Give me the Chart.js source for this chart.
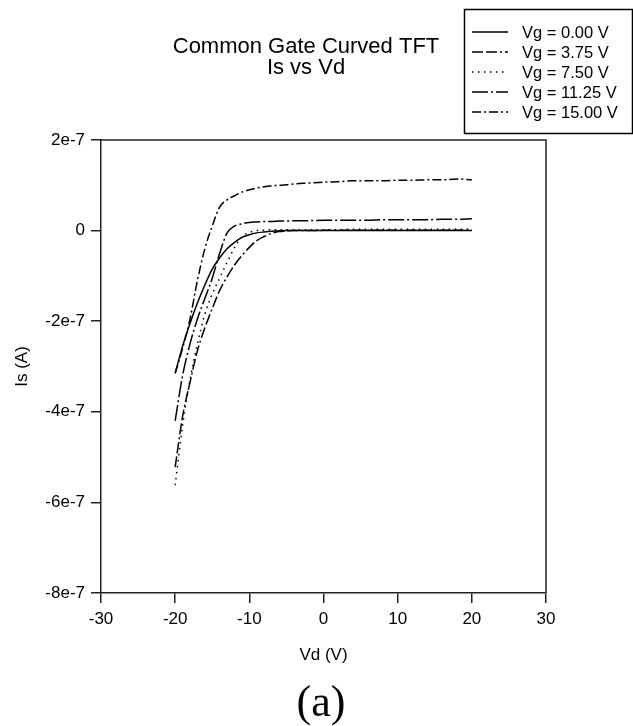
<!DOCTYPE html>
<html><head><meta charset="utf-8">
<script src="https://cdn.jsdelivr.net/npm/chart.js@4.4.0/dist/chart.umd.min.js"></script>
<style>html,body{margin:0;padding:0;background:#fff;}#wrap{width:633px;height:726px;position:relative;}</style>
</head><body><div id="wrap"><canvas id="c" width="633" height="726"></canvas></div>
<script>
// ---- data ----
const vd = [-20,-19,-18,-17,-16,-15,-14,-13,-12,-11,-10,-9,-8,-7,-6,-5,-4,-2,0,2,4,6,8,10,12,14,16,18,20];
const seriesLabels = ['Vg = 0.00 V','Vg = 3.75 V','Vg = 7.50 V','Vg = 11.25 V','Vg = 15.00 V'];
const isVg0 = [-3.15e-7,-2.55e-7,-2.05e-7,-1.6e-7,-1.2e-7,-0.85e-7,-0.6e-7,-0.4e-7,-0.26e-7,-0.15e-7,-0.09e-7,-0.05e-7,-0.03e-7,-0.015e-7,-0.005e-7,0,0,0,0,0,0,0,0,0,0,0,0,0,0];
const isVg375 = [-5.22e-7,-4.1e-7,-3.35e-7,-2.65e-7,-2.15e-7,-1.72e-7,-1.32e-7,-1.02e-7,-0.76e-7,-0.55e-7,-0.37e-7,-0.22e-7,-0.13e-7,-0.06e-7,-0.02e-7,-0.01e-7,0,0,0.005e-7,0.005e-7,0.01e-7,0.01e-7,0.01e-7,0.01e-7,0.01e-7,0.01e-7,0.01e-7,0.01e-7,0.01e-7];
const isVg750 = [-5.62e-7,-4.3e-7,-3.3e-7,-2.5e-7,-1.85e-7,-1.4e-7,-1.05e-7,-0.7e-7,-0.38e-7,-0.14e-7,-0.04e-7,0,0.01e-7,0.02e-7,0.02e-7,0.02e-7,0.02e-7,0.02e-7,0.02e-7,0.02e-7,0.03e-7,0.03e-7,0.03e-7,0.03e-7,0.03e-7,0.03e-7,0.03e-7,0.03e-7,0.03e-7];
const isVg1125 = [-4.2e-7,-3.2e-7,-2.5e-7,-1.95e-7,-1.5e-7,-1.05e-7,-0.5e-7,-0.05e-7,0.1e-7,0.15e-7,0.18e-7,0.19e-7,0.2e-7,0.2e-7,0.21e-7,0.21e-7,0.22e-7,0.22e-7,0.23e-7,0.23e-7,0.23e-7,0.23e-7,0.24e-7,0.24e-7,0.24e-7,0.24e-7,0.25e-7,0.25e-7,0.26e-7];
const isVg15 = [-3.15e-7,-2.6e-7,-1.95e-7,-1.1e-7,-0.4e-7,0.1e-7,0.52e-7,0.68e-7,0.77e-7,0.85e-7,0.9e-7,0.94e-7,0.97e-7,0.99e-7,1.0e-7,1.01e-7,1.03e-7,1.05e-7,1.07e-7,1.08e-7,1.1e-7,1.1e-7,1.1e-7,1.11e-7,1.11e-7,1.12e-7,1.12e-7,1.14e-7,1.12e-7];
const xTicks = [-30,-20,-10,0,10,20,30];
const yTicks = [2e-7,0,-2e-7,-4e-7,-6e-7,-8e-7];
const yTickLabels = ['2e-7','0','-2e-7','-4e-7','-6e-7','-8e-7'];
const titleLines = ['Common Gate Curved TFT','Is vs Vd'];
const xTitle = 'Vd (V)';
const yTitle = 'Is (A)';
const panelLabel = '(a)';

// ---- styles ----
const dashes = [[], [11,3,11,3,2,3], [1.5,4.5], [16,3,2,3], [9,3,2,3]];
const allSeries = [isVg0, isVg375, isVg750, isVg1125, isVg15];
const FONT = 'Liberation Sans, Arial, Helvetica, sans-serif';

const datasets = allSeries.map((s,i)=>({
  label: seriesLabels[i],
  data: vd.map((x,j)=>({x:x, y:s[j]})),
  borderColor:'#000', borderWidth:1.5, borderDash:dashes[i],
  pointRadius:0, fill:false, cubicInterpolationMode:'monotone'
}));

const decor = {
  id:'decor',
  afterDraw(chart){
    const ctx = chart.ctx, a = chart.chartArea;
    ctx.save();
    ctx.strokeStyle = '#222'; ctx.lineWidth = 1.5; ctx.setLineDash([]);
    ctx.beginPath();
    ctx.moveTo(a.left, a.top); ctx.lineTo(a.right, a.top); ctx.lineTo(a.right, a.bottom);
    ctx.stroke();
    // title
    ctx.fillStyle = '#000';
    ctx.font = '22px ' + FONT;
    ctx.textAlign = 'center'; ctx.textBaseline = 'middle';
    ctx.fillText(titleLines[0], 306, 47);
    ctx.fillText(titleLines[1], 306, 68);
    // legend
    ctx.lineWidth = 1.5; ctx.strokeStyle = '#000';
    ctx.strokeRect(464.5, 9.5, 168, 124);
    ctx.font = '16.5px ' + FONT;
    ctx.textAlign = 'left';
    chart.data.datasets.forEach((ds,i)=>{
      const y = 32 + i*20;
      ctx.setLineDash(ds.borderDash || []);
      ctx.beginPath(); ctx.moveTo(472, y); ctx.lineTo(508, y); ctx.stroke();
      ctx.setLineDash([]);
      ctx.fillText(ds.label, 522, y+1);
    });
    // panel label
    ctx.font = '44px Liberation Serif, Times New Roman, serif';
    ctx.textAlign = 'center'; ctx.textBaseline = 'alphabetic';
    ctx.fillText(panelLabel, 321, 716);
    ctx.restore();
  }
};

new Chart(document.getElementById('c'), {
  type:'line',
  data:{datasets},
  plugins:[decor],
  options:{
    responsive:false, animation:false, devicePixelRatio:1,
    layout:{padding:{left:0,right:87,top:140,bottom:0}},
    plugins:{legend:{display:false}, title:{display:false}, tooltip:{enabled:false}},
    scales:{
      x:{
        type:'linear', min:-30, max:30,
        afterBuildTicks:s=>{ s.ticks = xTicks.map(v=>({value:v})); },
        afterFit:s=>{ s.height = 133; },
        ticks:{color:'#000', font:{family:FONT, size:17}, padding:6, maxRotation:0, autoSkip:false},
        grid:{drawOnChartArea:false, drawTicks:true, tickLength:10, color:'#222', lineWidth:1.5},
        border:{display:true, color:'#222', width:1.5},
        title:{display:true, text:xTitle, color:'#000', font:{family:FONT, size:17}, padding:{top:0,bottom:60}}
      },
      y:{
        type:'linear', min:-8e-7, max:2e-7,
        afterBuildTicks:s=>{ s.ticks = yTicks.map(v=>({value:v})); },
        afterFit:s=>{ s.width = 101; },
        ticks:{color:'#000', font:{family:FONT, size:17}, padding:6, autoSkip:false,
          callback:(v)=>{ const k = yTicks.findIndex(t=>Math.abs(t-v)<1e-12); return k>=0 ? yTickLabels[k] : ''; }},
        grid:{drawOnChartArea:false, drawTicks:true, tickLength:10, color:'#222', lineWidth:1.5},
        border:{display:true, color:'#222', width:1.5},
        title:{display:true, text:yTitle, color:'#000', font:{family:FONT, size:17}, padding:{top:12,bottom:0}}
      }
    }
  }
});
</script></body></html>
